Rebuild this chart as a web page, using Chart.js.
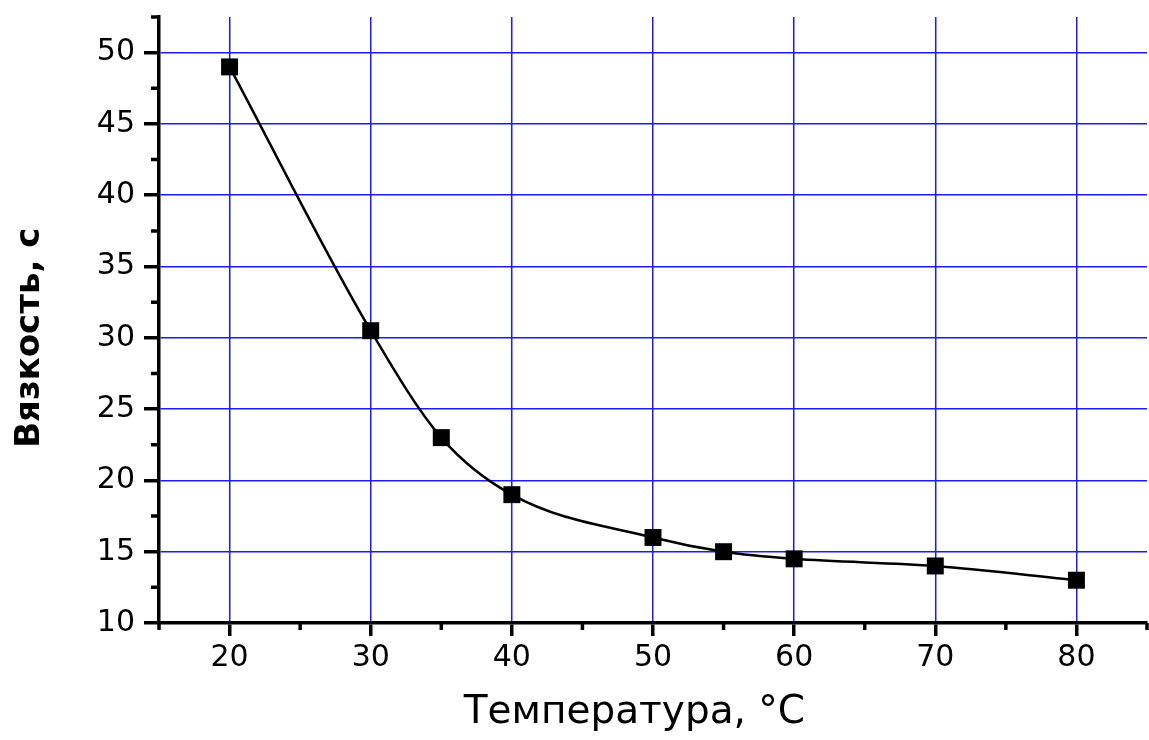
<!DOCTYPE html>
<html>
<head>
<meta charset="utf-8">
<script src="https://cdn.jsdelivr.net/npm/chart.js@4.4.1/dist/chart.umd.min.js"></script>
<style>
  html, body { margin: 0; padding: 0; background: #fff; }
  #wrap { width: 1149px; height: 740px; }
</style>
</head>
<body>
<div id="wrap"><canvas id="viscosity-chart"></canvas></div>
<script>
const temperatures = [20, 30, 35, 40, 50, 55, 60, 70, 80];
const viscosity = [49, 30.5, 23, 19, 16, 15, 14.5, 14, 13];

const xTicks = [20, 30, 40, 50, 60, 70, 80];
const xMinorTicks = [15, 25, 35, 45, 55, 65, 75, 85];
const yTicks = [10, 15, 20, 25, 30, 35, 40, 45, 50];
const yMinorTicks = [12.5, 17.5, 22.5, 27.5, 32.5, 37.5, 42.5, 47.5, 52.5];

const FONT = "'DejaVu Sans', Verdana, sans-serif";

// Chart.js has no minor ticks, draw the short ones on top
const minorTicks = {
  id: 'minorTicks',
  afterDraw(chart) {
    const { ctx, chartArea, scales } = chart;
    ctx.save();
    ctx.strokeStyle = '#000';
    ctx.lineWidth = 3.5;
    ctx.beginPath();
    xMinorTicks.forEach(v => {
      const px = scales.x.getPixelForValue(v);
      ctx.moveTo(px, chartArea.bottom);
      ctx.lineTo(px, chartArea.bottom + 7);
    });
    yMinorTicks.forEach(v => {
      const py = scales.y.getPixelForValue(v);
      ctx.moveTo(chartArea.left - 8, py);
      ctx.lineTo(chartArea.left, py);
    });
    ctx.stroke();
    ctx.restore();
  }
};

function noPadding(scale) {
  scale.paddingTop = 0;
  scale.paddingBottom = 0;
  scale.paddingLeft = 0;
  scale.paddingRight = 0;
}

function renderChart() {
  const ctx = document.querySelector('#viscosity-chart').getContext('2d');
  new Chart(ctx, {
    type: 'line',
    data: {
      datasets: [{
        data: temperatures.map((t, i) => ({ x: t, y: viscosity[i] })),
        borderColor: '#000',
        borderWidth: 2.5,
        backgroundColor: '#000',
        cubicInterpolationMode: 'monotone',
        pointStyle: 'rect',
        pointRadius: 12,
        pointBorderWidth: 0,
        clip: false
      }]
    },
    options: {
      responsive: true,
      maintainAspectRatio: false,
      animation: false,
      layout: { autoPadding: false, padding: { top: 17, right: 2, left: 0, bottom: 0 } },
      plugins: {
        legend: { display: false },
        tooltip: { enabled: false }
      },
      scales: {
        x: {
          type: 'linear',
          min: 15,
          max: 85,
          afterBuildTicks: scale => { scale.ticks = xTicks.map(v => ({ value: v })); },
          afterFit: scale => { scale.height = 117; noPadding(scale); },
          border: { display: true, color: '#000', width: 3.5 },
          grid: {
            color: '#1a1aff',
            lineWidth: 1.5,
            tickColor: '#000',
            tickWidth: 3.5,
            tickLength: 13
          },
          ticks: {
            color: '#000',
            padding: 4,
            maxRotation: 0,
            font: { family: FONT, size: 30 }
          },
          title: {
            display: true,
            text: 'Температура, °C\u00a0\u00a0\u00a0',
            color: '#000',
            padding: { top: 0, bottom: 4 },
            font: { family: FONT, size: 39 }
          }
        },
        y: {
          type: 'linear',
          min: 10,
          max: 52.5,
          afterBuildTicks: scale => { scale.ticks = yTicks.map(v => ({ value: v })); },
          afterFit: scale => { scale.width = 159; noPadding(scale); },
          border: { display: true, color: '#000', width: 3.5 },
          grid: {
            color: '#1a1aff',
            lineWidth: 1.5,
            tickColor: '#000',
            tickWidth: 3.5,
            tickLength: 15
          },
          ticks: {
            color: '#000',
            padding: 9,
            font: { family: FONT, size: 30 }
          },
          title: {
            display: true,
            text: 'Вязкость, с\u00a0\u00a0\u00a0',
            color: '#000',
            padding: { top: 10, bottom: 0 },
            font: { family: FONT, size: 34, weight: 'bold' }
          }
        }
      }
    },
    plugins: [minorTicks]
  });
}

renderChart();
</script>
</body>
</html>
